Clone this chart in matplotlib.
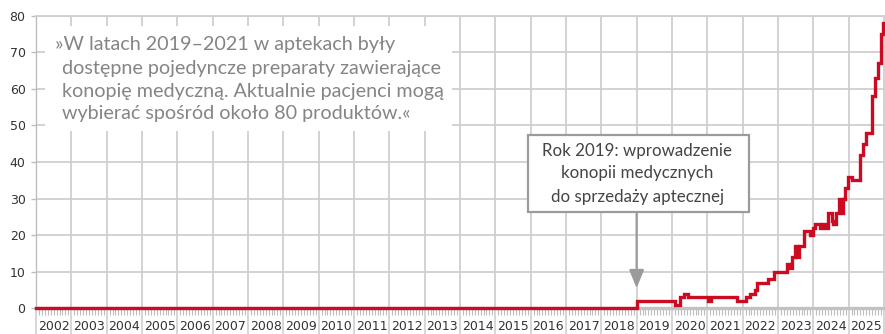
import matplotlib
matplotlib.use("Agg")
import matplotlib.pyplot as plt
from matplotlib.patches import Rectangle
from matplotlib.ticker import FixedLocator, NullFormatter
import numpy as np

# Number of medical cannabis products available in pharmacies (step changes)
change_year = [2002.0, 2019.0, 2020.09, 2020.23, 2020.34, 2020.45, 2021.03, 2021.1,
               2021.83, 2022.1, 2022.21, 2022.35, 2022.42, 2022.73, 2022.89, 2023.25,
               2023.32, 2023.41, 2023.48, 2023.53, 2023.6, 2023.74, 2023.91, 2023.98,
               2024.05, 2024.19, 2024.25, 2024.33, 2024.43, 2024.52, 2024.57, 2024.65,
               2024.74, 2024.8, 2024.85, 2024.9, 2024.99, 2025.09, 2025.32, 2025.4,
               2025.49, 2025.65, 2025.74, 2025.84, 2025.91, 2025.98]
products = [0, 2, 1, 3, 4, 3, 2, 3, 2, 3, 4, 5, 7, 8, 10, 12, 11, 14, 17, 14,
            17, 21, 20, 22, 23, 22, 23, 22, 26, 24, 23, 26, 30, 26, 30, 33, 36, 35,
            42, 45, 48, 58, 63, 67, 75, 78]
end_year = 2026.03

years = list(range(2002, 2026))
y_ticks = [0, 10, 20, 30, 40, 50, 60, 70, 80]

quote_lines = ["»W latach 2019–2021 w aptekach były",
               "dostępne pojedyncze preparaty zawierające",
               "konopię medyczną. Aktualnie pacjenci mogą",
               "wybierać spośród około 80 produktów.«"]
note_lines = ["Rok 2019: wprowadzenie",
              "konopii medycznych",
              "do sprzedaży aptecznej"]

W, H = 885, 334
fig = plt.figure(figsize=(W / 100, H / 100), dpi=100)
ax = fig.add_axes([36 / W, (H - 308.3) / H, (W - 36) / W, (308.3 - 15.7) / H])

grid_c = "#cfcfcf"
ax.set_xlim(2002, end_year)
ax.set_ylim(0, 80)

# grid
ax.set_axisbelow(True)
ax.yaxis.set_major_locator(FixedLocator(y_ticks))
ax.xaxis.set_major_locator(FixedLocator(list(range(2002, 2027))))
ax.xaxis.set_minor_locator(FixedLocator([y + m / 12 for y in range(2002, 2026) for m in range(1, 12)]))
ax.xaxis.set_major_formatter(NullFormatter())
ax.grid(True, which="major", color=grid_c, lw=1.3)

ax.tick_params(axis="x", which="major", direction="out", length=19, width=1.2, color=grid_c)
ax.tick_params(axis="x", which="minor", direction="out", length=5, width=0.8, color="#bdbdbd")
ax.tick_params(axis="y", direction="out", length=3.5, width=1.0, color="#bdbdbd",
               labelsize=9, labelcolor="#333333", pad=4)
for lab in ax.get_yticklabels():
    lab.set_fontfamily("DejaVu Sans")

ax.spines["right"].set_visible(False)
ax.spines["top"].set_color(grid_c)
ax.spines["top"].set_linewidth(1.3)
ax.spines["left"].set_color("#bdbdbd")
ax.spines["left"].set_linewidth(1.0)
ax.spines["bottom"].set_color("#c2c2c2")
ax.spines["bottom"].set_linewidth(2.4)

# year labels centred between year boundaries
for y in years:
    ax.annotate(str(y), xy=(y + 0.5, 0), xycoords=("data", "axes fraction"),
                xytext=(0, -13), textcoords="offset points", ha="center", va="center",
                fontsize=9, color="#333333", family="DejaVu Sans")

# step line
xs = change_year + [end_year]
ys = products + [products[-1]]
ax.step(xs, ys, where="post", color="#cc0a22", lw=2.4, clip_on=False, zorder=5,
        solid_joinstyle="miter")

# quote panel
ax.add_patch(Rectangle((2002.25, 48.6), 11.52, 28.7, facecolor="white",
                       edgecolor="none", zorder=2))
quote_x = [2002.54, 2002.74, 2002.74, 2002.74]
quote_y = [70.5, 64.1, 57.7, 51.8]
for tx, ty, line in zip(quote_x, quote_y, quote_lines):
    ax.text(tx, ty, line, fontsize=14.2, color="#858585", family="Lato",
            va="baseline", ha="left", zorder=3)

# annotation box and arrow
ax.add_patch(Rectangle((2015.93, 26.4), 6.26, 20.9, facecolor="white",
                       edgecolor="#9b9b9b", lw=1.6, zorder=3))
note_y = [41.6, 35.5, 29.1]
for ty, line in zip(note_y, note_lines):
    ax.text(2019.02, ty, line, fontsize=12.2, color="#444444", family="Lato",
            va="baseline", ha="center", zorder=4)
ax.annotate("", xy=(2019.0, 5.5), xytext=(2019.0, 26.2),
            arrowprops=dict(arrowstyle="-|>,head_length=1.1,head_width=0.45",
                            color="#9b9b9b", lw=1.6, shrinkA=0, shrinkB=0,
                            mutation_scale=10), zorder=4)

fig.savefig("out.png", dpi=100)
